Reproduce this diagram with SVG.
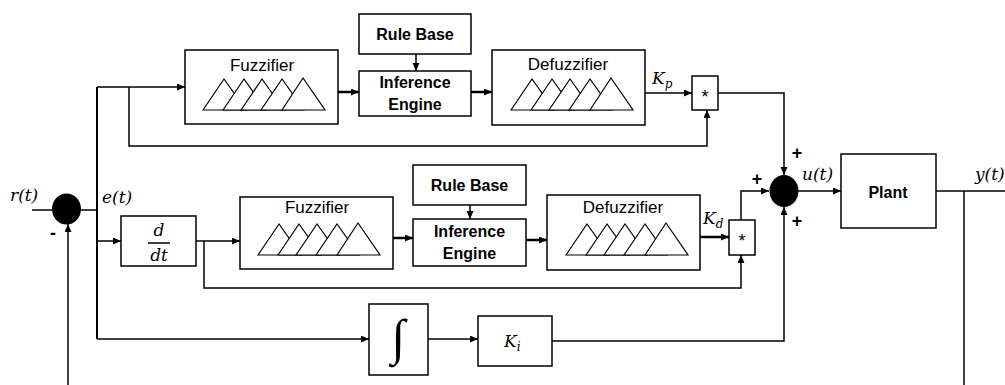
<svg xmlns="http://www.w3.org/2000/svg" width="1005" height="385" viewBox="0 0 1005 385">
<style>
.box{fill:#fff;stroke:#000;stroke-width:1.5}
.tri{fill:#fff;stroke:#000;stroke-width:1.2;stroke-linejoin:miter}
.ln{fill:none;stroke:#000;stroke-width:1.5}
.thk{fill:none;stroke:#000;stroke-width:2.5}
.t{font-family:"Liberation Sans",Arial,sans-serif;font-size:17px;text-anchor:middle;fill:#000}
.b{font-family:"Liberation Sans",Arial,sans-serif;font-size:16px;font-weight:bold;text-anchor:middle;fill:#000}
.m{font-family:"DejaVu Serif","Liberation Serif",serif;font-size:17px;font-style:italic;fill:#000}
.s{font-family:"DejaVu Serif","Liberation Serif",serif;font-size:12px;font-style:italic}
.sg{font-family:"Liberation Sans",Arial,sans-serif;font-size:18px;font-weight:bold;text-anchor:middle;fill:#000}
.ast{font-family:"Liberation Sans",Arial,sans-serif;font-size:18px;text-anchor:middle;fill:#000}
</style>
<defs>
<marker id="ah" markerUnits="userSpaceOnUse" markerWidth="9" markerHeight="8" refX="8" refY="3.5" orient="auto"><path d="M0,0 L8,3.5 L0,7 z" fill="#000"/></marker>
<g id="tris">
<polygon class="tri" points="0,31 21,0 43,31"/>
<polygon class="tri" points="20,31 41,0 63,31"/>
<polygon class="tri" points="38,31 59,0 81,31"/>
<polygon class="tri" points="58,31 79,0 101,31"/>
<polygon class="tri" points="79,31 100,-1 122,31"/>
</g>
</defs>
<rect width="1005" height="385" fill="#fff"/>

<g id="connectors">
<path class="ln" d="M32,210 H52"/>
<path class="ln" d="M81,210 H97"/>
<path class="ln" d="M97,87 V339" style="stroke-width:2"/>
<path class="ln" d="M97,87 H185" marker-end="url(#ah)"/>
<path class="ln" d="M129,87 V146 H707 V110" marker-end="url(#ah)"/>
<path class="thk" d="M338,92 H359" marker-end="url(#ah)"/>
<path class="thk" d="M471,92 H492" marker-end="url(#ah)"/>
<path class="ln" d="M416,54 V71" marker-end="url(#ah)"/>
<path class="ln" d="M645,93 H692" marker-end="url(#ah)"/>
<path class="ln" d="M718,93 H784 V175" marker-end="url(#ah)"/>
<path class="ln" d="M97,241 H121" marker-end="url(#ah)"/>
<path class="ln" d="M196,241 H240" marker-end="url(#ah)"/>
<path class="ln" d="M204,241 V288 H741 V255" marker-end="url(#ah)"/>
<path class="thk" d="M393,238 H413" marker-end="url(#ah)"/>
<path class="thk" d="M526,240 H547" marker-end="url(#ah)"/>
<path class="ln" d="M470,205 V219" marker-end="url(#ah)"/>
<path class="thk" d="M700,237 H729" marker-end="url(#ah)"/>
<path class="ln" d="M741,220 V191 H769" marker-end="url(#ah)"/>
<path class="ln" d="M97,339 H369" marker-end="url(#ah)"/>
<path class="ln" d="M428,339 H478" marker-end="url(#ah)"/>
<path class="ln" d="M552,341 H784 V207" marker-end="url(#ah)"/>
<path class="ln" d="M798,191 H841" marker-end="url(#ah)"/>
<path class="ln" d="M936,191 H1005"/>
<path class="ln" d="M964,191 V385"/>
<path class="ln" d="M68,385 V224" marker-end="url(#ah)"/>
</g>

<g id="sum1"><ellipse cx="66.5" cy="209" rx="14.5" ry="15.5" fill="#000"/></g>
<g id="sum2"><ellipse cx="784" cy="191" rx="14.5" ry="16" fill="#000"/></g>

<g id="fuzz1"><rect class="box" x="185" y="50" width="153" height="74"/><text class="t" x="262" y="71">Fuzzifier</text><use href="#tris" x="203" y="79"/></g>
<g id="rule1"><rect class="box" x="359" y="14" width="112" height="40"/><text class="b" x="415" y="40">Rule Base</text></g>
<g id="inf1"><rect class="box" x="359" y="71" width="112" height="45"/><text class="b" x="415" y="88">Inference</text><text class="b" x="415" y="110">Engine</text></g>
<g id="defuzz1"><rect class="box" x="492" y="50" width="153" height="75"/><text class="t" x="568" y="70">Defuzzifier</text><use href="#tris" x="511" y="79"/></g>
<g id="mul1"><rect class="box" x="692" y="76" width="26" height="34"/><text class="ast" x="705" y="103">*</text></g>

<g id="ddt"><rect class="box" x="121" y="216" width="75" height="50"/><text class="m" x="159" y="236" text-anchor="middle">d</text><path class="ln" d="M148,243 H170"/><text class="m" x="159" y="261" text-anchor="middle">dt</text></g>
<g id="fuzz2"><rect class="box" x="240" y="197" width="153" height="72"/><text class="t" x="317" y="213">Fuzzifier</text><use href="#tris" x="258" y="224"/></g>
<g id="rule2"><rect class="box" x="413" y="165" width="113" height="40"/><text class="b" x="469.5" y="191">Rule Base</text></g>
<g id="inf2"><rect class="box" x="413" y="219" width="113" height="47"/><text class="b" x="469.5" y="237">Inference</text><text class="b" x="469.5" y="259">Engine</text></g>
<g id="defuzz2"><rect class="box" x="547" y="195" width="153" height="75"/><text class="t" x="623" y="213">Defuzzifier</text><use href="#tris" x="566" y="224"/></g>
<g id="mul2"><rect class="box" x="729" y="220" width="26" height="35"/><text class="ast" x="742" y="247">*</text></g>

<g id="integ"><rect class="box" x="369" y="304" width="59" height="71"/><text x="398" y="354" text-anchor="middle" style="font-family:'Liberation Serif',serif;font-size:50px">∫</text></g>
<g id="ki"><rect class="box" x="478" y="316" width="74" height="50"/><text class="m" x="504" y="347">K<tspan class="s" dy="4">i</tspan></text></g>
<g id="plant"><rect class="box" x="841" y="154" width="95" height="74"/><text class="b" x="888" y="198">Plant</text></g>

<g id="labels">
<text class="m" x="10" y="201">r(t)</text>
<text class="m" x="102" y="203">e(t)</text>
<text class="m" x="802" y="180">u(t)</text>
<text class="m" x="975" y="180">y(t)</text>
<text class="m" x="652" y="84">K<tspan class="s" dy="4">p</tspan></text>
<text class="m" x="703" y="224">K<tspan class="s" dy="4">d</tspan></text>
<text class="sg" x="797" y="159">+</text>
<text class="sg" x="757" y="185">+</text>
<text class="sg" x="797" y="227">+</text>
<text class="sg" x="53" y="239">-</text>
</g>
</svg>
